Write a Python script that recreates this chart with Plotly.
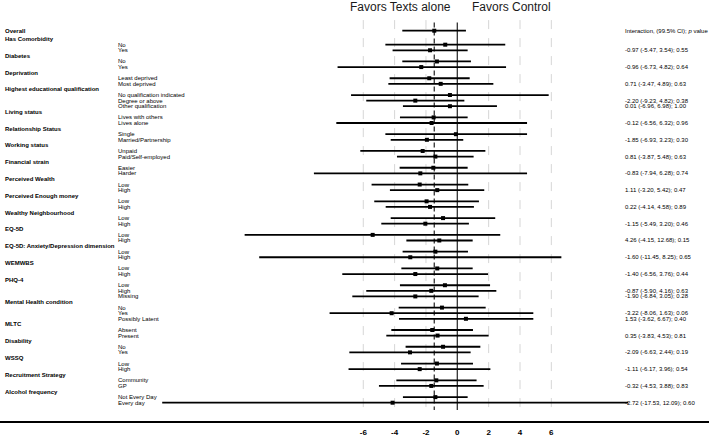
import plotly.graph_objects as go

# ---------------- data ----------------
overall_label = "Overall"
overall_est = -1.47
overall_lo = -3.51
overall_hi = 0.55

groups = ["Has Comorbidity", "Diabetes", "Deprivation", "Highest educational qualification",
          "Living status", "Relationship Status", "Working status", "Financial strain",
          "Perceived Wealth", "Perceived Enough money", "Wealthy Neighbourhood", "EQ-5D",
          "EQ-5D: Anxiety/Depression dimension", "WEMWBS", "PHQ-4", "Mental Health condition",
          "MLTC", "Disability", "WSSQ", "Recruitment Strategy", "Alcohol frequency"]

levels = [["No", "Yes"], ["No", "Yes"], ["Least deprived", "Most deprived"],
          ["No qualification indicated", "Degree or above", "Other qualification"],
          ["Lives with others", "Lives alone"], ["Single", "Married/Partnership"],
          ["Unpaid", "Paid/Self-employed"], ["Easier", "Harder"], ["Low", "High"],
          ["Low", "High"], ["Low", "High"], ["Low", "High"], ["Low", "High"], ["Low", "High"],
          ["Low", "High", "Missing"], ["No", "Yes", "Possibly Latent"], ["Absent", "Present"],
          ["No", "Yes"], ["Low", "High"], ["Community", "GP"], ["Not Every Day", "Every day"]]

est = [[-0.77, -1.74], [-1.30, -2.30], [-1.79, -1.06], [-0.47, -2.68, -0.47],
       [-1.51, -1.64], [-0.09, -1.94], [-2.21, -1.40], [-1.53, -2.36], [-2.40, -1.28],
       [-1.96, -1.74], [-0.91, -2.04], [-5.40, -1.15], [-1.40, -3.00], [-1.28, -2.68],
       [-0.79, -1.66, -2.68], [-0.98, -4.19, 0.55], [-1.60, -1.26], [-0.91, -3.02],
       [-1.30, -2.40], [-1.34, -1.66], [-1.40, -4.13]]

lo = [[-4.59, -4.13], [-3.51, -7.64], [-4.32, -4.40], [-6.78, -5.81, -3.47],
      [-3.66, -7.72], [-4.59, -4.25], [-6.19, -3.85], [-3.68, -9.15], [-5.47, -4.30],
      [-5.30, -4.57], [-4.25, -4.85], [-13.57, -3.25], [-3.49, -12.64], [-3.57, -7.34],
      [-3.66, -5.81, -6.70], [-3.74, -8.15, -3.72], [-4.21, -4.53], [-3.30, -6.89],
      [-3.59, -6.94], [-3.89, -5.00], [-3.47, -18.83]]

hi = [[3.06, 0.66], [0.87, 3.11], [0.79, 2.30], [5.83, 0.45, 2.53],
      [0.66, 4.45], [4.45, 0.38], [1.79, 1.04], [0.66, 4.45], [0.70, 1.72],
      [1.38, 1.06], [2.42, 0.74], [2.74, 0.98], [0.68, 6.64], [0.98, 1.96],
      [2.09, 2.49, 1.36], [1.81, 4.85, 4.85], [1.00, 2.00], [1.47, 0.85],
      [1.00, 2.11], [1.23, 1.68], [0.66, 10.91]]

interaction = [["-0.97 (-5.47, 3.54); 0.55"], ["-0.96 (-6.73, 4.82); 0.64"],
               ["0.71 (-3.47, 4.89); 0.63"],
               ["-2.20 (-9.23, 4.82); 0.38", "0.01 (-6.96, 6.98); 1.00"],
               ["-0.12 (-6.56, 6.32); 0.96"], ["-1.85 (-6.93, 3.23); 0.30"],
               ["0.81 (-3.87, 5.48); 0.63"], ["-0.83 (-7.94, 6.28); 0.74"],
               ["1.11 (-3.20, 5.42); 0.47"], ["0.22 (-4.14, 4.58); 0.89"],
               ["-1.15 (-5.49, 3.20); 0.46"], ["4.26 (-4.15, 12.68); 0.15"],
               ["-1.60 (-11.45, 8.25); 0.65"], ["-1.40 (-6.56, 3.76); 0.44"],
               ["-0.87 (-5.90, 4.16); 0.63", "-1.90 (-6.84, 3.05); 0.28"],
               ["-3.22 (-8.06, 1.63); 0.06", "1.53 (-3.62, 6.67); 0.40"],
               ["0.35 (-3.83, 4.53); 0.81"], ["-2.09 (-6.63, 2.44); 0.19"],
               ["-1.11 (-6.17, 3.96); 0.54"], ["-0.32 (-4.53, 3.88); 0.83"],
               ["-2.72 (-17.53, 12.09); 0.60"]]

interaction_header = "Interaction, (99.5% CI); <i>p</i> value"
title_left = "Favors Texts alone"
title_right = "Favors Control"
tick_values = [-6, -4, -2, 0, 2, 4, 6]

# ---------------- layout of rows ----------------
FONT = "Liberation Sans, Arial, Helvetica, sans-serif"
xs, ys, em, ep = [overall_est], [0.0], [overall_est - overall_lo], [overall_hi - overall_est]
annotations = []

def label(text, xpaper, y, bold=False, size=6):
    annotations.append(dict(text=f"<b>{text}</b>" if bold else text, x=xpaper, xref="paper",
                            y=y, yref="y", xanchor="left", yanchor="middle", showarrow=False,
                            font=dict(family=FONT, size=size, color="black")))

X_HEAD, X_SUB, X_INT = 3 / 709, 116 / 709, 623 / 709
label(overall_label, X_HEAD, 0.0, bold=True)
label(interaction_header, X_INT, 0.0)

r = 1.5
for g, levs, e, l, h, inter in zip(groups, levels, est, lo, hi, interaction):
    label(g, X_HEAD, r, bold=True)
    r += 1
    for i, (lv, ev, lv_lo, lv_hi) in enumerate(zip(levs, e, l, h)):
        label(lv, X_SUB, r)
        xs.append(ev); ys.append(r); em.append(ev - lv_lo); ep.append(lv_hi - ev)
        if i >= 1:
            label(inter[i - 1], X_INT, r)
        r += 1

fig = go.Figure()
fig.add_trace(go.Scatter(
    x=xs, y=ys, mode="markers",
    marker=dict(symbol="square", size=4, color="black"),
    error_x=dict(type="data", symmetric=False, array=ep, arrayminus=em,
                 thickness=1.8, width=0, color="black"),
    showlegend=False, hoverinfo="skip"))

shapes = []
top_grid, bot_grid = -1.9, 68.2
for t in tick_values:
    if t == 0:
        continue
    shapes.append(dict(type="line", xref="x", yref="y", x0=t, x1=t, y0=top_grid, y1=bot_grid,
                       line=dict(color="#d6d6d6", width=1, dash="dash"), layer="below"))
shapes.append(dict(type="line", xref="x", yref="y", x0=0, x1=0, y0=-1.45, y1=67.8,
                   line=dict(color="#333333", width=1.3), layer="below"))
shapes.append(dict(type="line", xref="x", yref="y", x0=overall_est, x1=overall_est,
                   y0=-1.45, y1=67.8, line=dict(color="#333333", width=1.3, dash="5px,3px"),
                   layer="below"))

annotations.append(dict(text=title_left, x=-3.6, xref="x", y=-4.18, yref="y",
                        xanchor="center", yanchor="middle", showarrow=False,
                        font=dict(family=FONT, size=12, color="#1a1a1a")))
annotations.append(dict(text=title_right, x=3.45, xref="x", y=-4.18, yref="y",
                        xanchor="center", yanchor="middle", showarrow=False,
                        font=dict(family=FONT, size=12, color="#1a1a1a")))

fig.update_layout(
    width=709, height=438,
    margin=dict(l=0, r=0, t=0, b=17),
    paper_bgcolor="white", plot_bgcolor="white",
    shapes=shapes, annotations=annotations,
    xaxis=dict(range=[-29.18, 16.06], showgrid=False, zeroline=False,
               showline=True, linecolor="black", linewidth=1.5,
               tickvals=tick_values, ticktext=[str(t) for t in tick_values],
               ticks="outside", ticklen=3, tickcolor="rgba(0,0,0,0)",
               tickfont=dict(family=FONT, size=8, color="black", weight="bold")),
    yaxis=dict(range=[69.77, -5.488], showgrid=False, zeroline=False, showticklabels=False,
               showline=False, ticks=""),
)

fig.write_html("out.html")
